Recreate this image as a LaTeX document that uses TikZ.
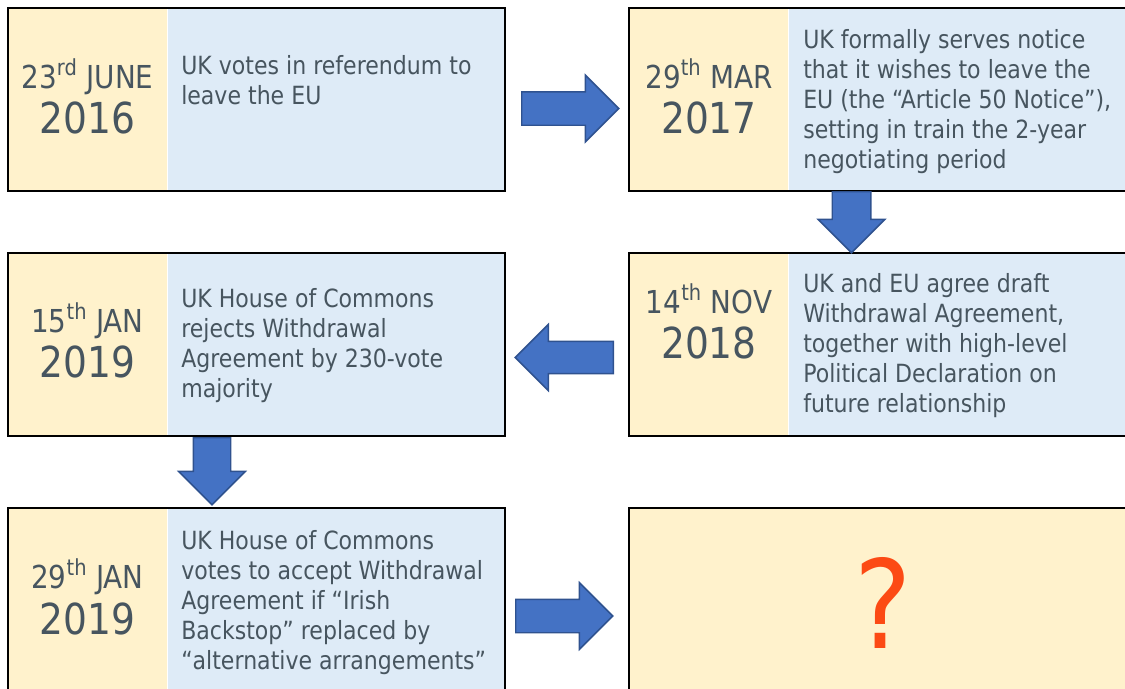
\documentclass[tikz,border=0pt]{standalone}
\usepackage{fontspec}
\setmainfont{DejaVu Sans}[FakeStretch=0.88]
\usetikzlibrary{positioning,shapes.arrows}

\definecolor{dateyellow}{HTML}{FFF2CC}
\definecolor{noteblue}{HTML}{DEEBF7}
\definecolor{slate}{HTML}{47555F}
\definecolor{arrowfill}{HTML}{4472C4}
\definecolor{arrowline}{HTML}{2F528F}
\definecolor{qred}{HTML}{FC4A14}

\tikzset{
  datebox/.style={fill=dateyellow, minimum width=119.25pt, minimum height=136.5pt, inner sep=0pt, anchor=north west},
  notebox/.style={fill=noteblue, minimum height=136.5pt, inner sep=0pt},
  frame/.style={line width=1.5pt},
  monthtxt/.style={text=slate, font=\fontsize{23.7}{28}\selectfont, anchor=base, inner sep=0pt},
  yeartxt/.style={text=slate, font=\fontsize{32}{38}\selectfont, anchor=base, inner sep=0pt},
  % anchored at the baseline of the last line
  notetxt/.style={text=slate, font=\fontsize{18.8}{22.5}\selectfont, align=left, anchor=base west, inner sep=0pt},
  barrow/.style={single arrow, single arrow tip angle=90, fill=arrowfill, draw=arrowline, line width=1.1pt, inner xsep=0pt, anchor=tail},
}

\begin{document}
\begin{tikzpicture}[x=0.75pt,y=0.75pt,yscale=-1,xscale=1]
  \useasboundingbox (0,0) rectangle (1125,689);
  \clip (0,0) rectangle (1125,689);

  % first row
  \node[datebox] (d1) at (8,8) {};
  \node[notebox, minimum width=252.75pt, right=0pt of d1] (n1) {};
  \draw[frame] (d1.north west) rectangle (n1.south east);
  \node[monthtxt] (m1) at (87.5,88) {23\textsuperscript{rd} JUNE};
  \node[yeartxt] (y1) at (87.5,133) {2016};
  \node[notetxt] (t1) at (181,104) {UK votes in referendum to\\leave the EU};

  \node[datebox] (d2) at (629,8) {};
  \node[notebox, minimum width=261pt, right=0pt of d2] (n2) {};
  \draw[frame] (d2.north west) rectangle (n2.south east);
  \node[monthtxt] (m2) at (709,88) {29\textsuperscript{th} MAR};
  \node[yeartxt] (y2) at (709,133) {2017};
  \node[notetxt] (t2) at (803,168) {UK formally serves notice\\that it wishes to leave the\\EU (the “Article 50 Notice”),\\setting in train the 2-year\\negotiating period};

  % second row
  \node[datebox] (d3) at (629,253) {};
  \node[notebox, minimum width=261pt, right=0pt of d3] (n3) {};
  \draw[frame] (d3.north west) rectangle (n3.south east);
  \node[monthtxt] (m3) at (709,313) {14\textsuperscript{th} NOV};
  \node[yeartxt] (y3) at (709,358) {2018};
  \node[notetxt] (t3) at (803,412) {UK and EU agree draft\\Withdrawal Agreement,\\together with high-level\\Political Declaration on\\future relationship};

  \node[datebox] (d4) at (8,253) {};
  \node[notebox, minimum width=252.75pt, right=0pt of d4] (n4) {};
  \draw[frame] (d4.north west) rectangle (n4.south east);
  \node[monthtxt] (m4) at (87.5,332) {15\textsuperscript{th} JAN};
  \node[yeartxt] (y4) at (87.5,377) {2019};
  \node[notetxt] (t4) at (181,397) {UK House of Commons\\rejects Withdrawal\\Agreement by 230-vote\\majority};

  % third row
  \node[datebox, minimum height=138.75pt] (d5) at (8,508) {};
  \node[notebox, minimum height=138.75pt, minimum width=252.75pt, right=0pt of d5] (n5) {};
  \draw[frame] (d5.north west) rectangle (n5.south east);
  \node[monthtxt] (m5) at (87.5,588) {29\textsuperscript{th} JAN};
  \node[yeartxt] (y5) at (87.5,634) {2019};
  \node[notetxt] (t5) at (181,669) {UK House of Commons\\votes to accept Withdrawal\\Agreement if “Irish\\Backstop” replaced by\\“alternative arrangements”};

  \node[datebox, minimum width=381pt, minimum height=138.75pt] (d6) at (629,508) {};
  \draw[frame] (d6.north west) rectangle (d6.south east);
  \node[text=qred, font=\fontsize{92}{100}\selectfont, anchor=base, inner sep=0pt] (q6) at (883,648) {?};

  % block arrows between the steps
  \node[barrow, minimum height=72.75pt, inner ysep=12pt, single arrow head extend=12.4pt] (a12) at (521,108.5) {};
  \node[barrow, rotate=-90, minimum height=45.75pt, inner ysep=13.9pt, single arrow head extend=10.5pt] (a23) at (851.5,191) {};
  \node[barrow, rotate=180, minimum height=73.5pt, inner ysep=11.6pt, single arrow head extend=12.75pt] (a34) at (614,357.5) {};
  \node[barrow, rotate=-90, minimum height=50.25pt, inner ysep=13.5pt, single arrow head extend=10.9pt] (a45) at (212,437) {};
  \node[barrow, minimum height=72.75pt, inner ysep=12pt, single arrow head extend=12.4pt] (a56) at (515,616) {};
\end{tikzpicture}
\end{document}
